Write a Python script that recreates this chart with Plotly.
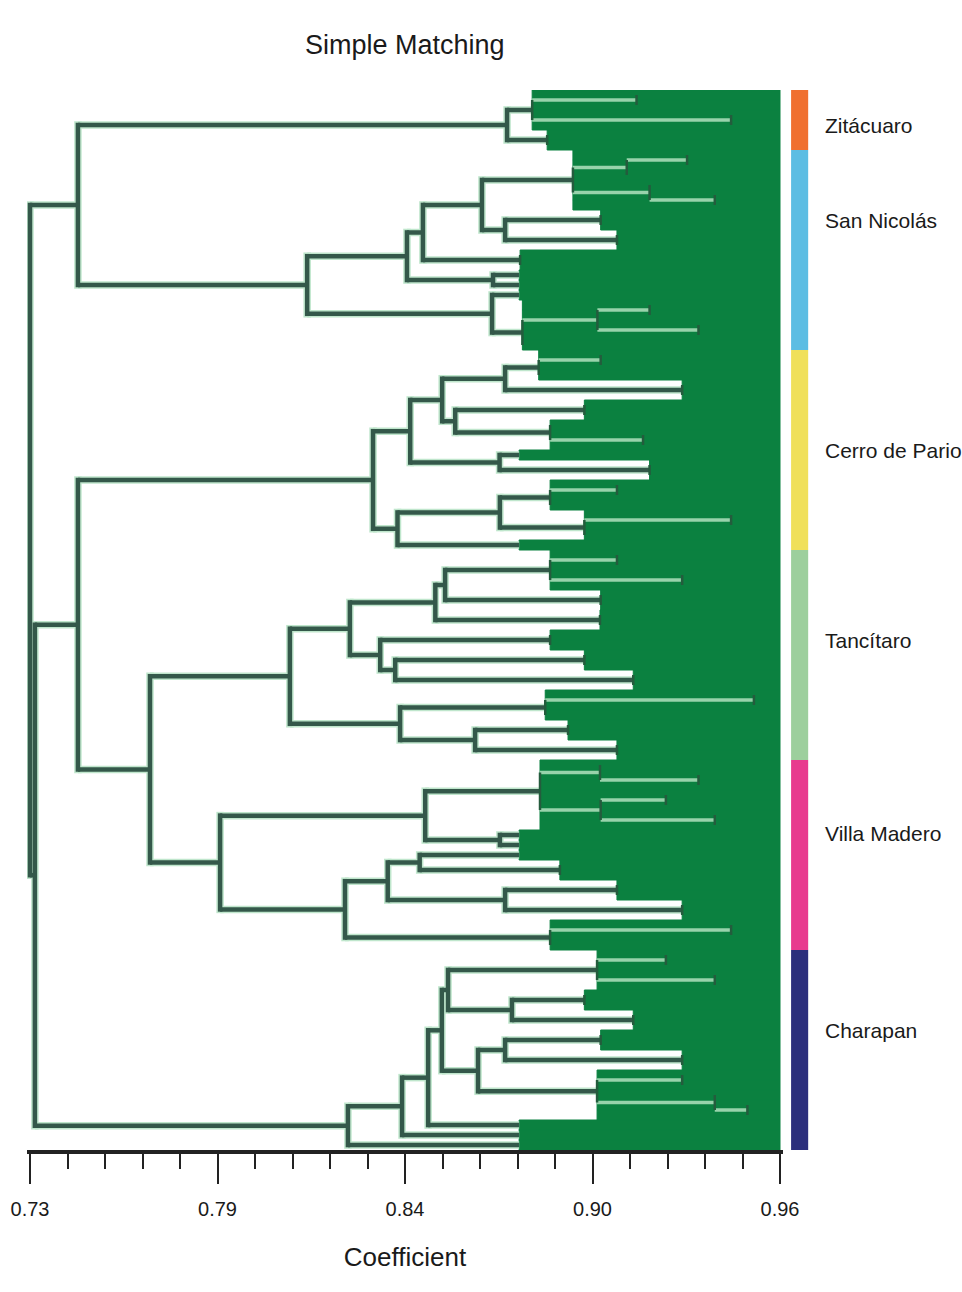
import plotly.graph_objects as go

L = "leaf"

# Population groups, top to bottom
populations = ["Zitácuaro", "San Nicolás", "Cerro de Pario", "Tancítaro", "Villa Madero", "Charapan"]

# Clusters within each population: [similarity coefficient, upper branch, lower branch]
zitacuaro = [0.8763,
             [0.8840, [0.9160, L, L], [0.9450, L, L]],
             [0.8886, L, L]]

san_nicolas = [0.8150,
               [0.8456,
                [0.8505,
                 [0.8686,
                  [0.8965, [0.9130, [0.9315, L, L], L], [0.9200, L, [0.9400, L, L]]],
                  [0.8757, [0.9050, L, L], [0.9100, L, L]]],
                 [0.8803, L, L]],
                [0.8720, L, L]],
               [0.8717,
                L,
                [0.8810, [0.9040, [0.9200, L, L], [0.9350, L, L]], L]]]

cerro_de_pario = [0.8352,
                  [0.8466,
                   [0.8564,
                    [0.8757, [0.8860, [0.9050, L, L], L], [0.9300, L, L]],
                    [0.8604, [0.9000, L, L], [0.8895, L, [0.9180, L, L]]]],
                   [0.8740, L, [0.9200, L, L]]],
                  [0.8427,
                   [0.8741, [0.8895, [0.9100, L, L], L], [0.9000, [0.9450, L, L], L]],
                   L]]

tancitaro = [0.8097,
             [0.8281,
              [0.8543,
               [0.8573, [0.8895, [0.9100, L, L], [0.9300, L, L]], [0.9050, L, L]],
               [0.9048, L, L]],
              [0.8374,
               [0.8895, L, L],
               [0.8420, [0.9000, L, L], [0.9150, L, L]]]],
             [0.8435,
              [0.8880, [0.9520, L, L], L],
              [0.8665, [0.8950, L, L], [0.9100, L, L]]]]

villa_madero = [0.7883,
                [0.8512,
                 [0.8864,
                  [0.9048, L, [0.9350, L, L]],
                  [0.9050, [0.9250, L, L], [0.9400, L, L]]],
                 [0.8741, L, L]],
                [0.8266,
                 [0.8397,
                  [0.8495, L, [0.8925, L, L]],
                  [0.8757, [0.9100, L, L], [0.9300, L, L]]],
                 [0.8895, [0.9450, L, L], L]]]

charapan = [0.8275,
            [0.8441,
             [0.8521,
              [0.8563,
               [0.8582,
                [0.9039, [0.9250, L, L], [0.9400, L, L]],
                [0.8778, [0.9000, L, L], [0.9150, L, L]]],
               [0.8674,
                [0.8757, [0.9050, L, L], [0.9300, L, L]],
                [0.9039, [0.9300, L, L], [0.9400, L, [0.9500, L, L]]]]],
              L],
             L],
            L]

population_trees = [zitacuaro, san_nicolas, cerro_de_pario, tancitaro, villa_madero, charapan]

# Joins between populations
join_zit_sn = 0.7447
join_tan_vm = 0.7668
join_cp_tv = 0.7447
join_lower = 0.7315
join_root = 0.7300

# Axis
tick_values = [0.73, 0.7875, 0.845, 0.9025, 0.96]
tick_labels = ["0.73", "0.79", "0.84", "0.90", "0.96"]
minor_step = 0.0115

# ---------------------------------------------------------------- styling
X_END = 0.96
DENSE_FROM = 0.88
BAND_GREEN = "#0b8140"
LINE_DARK = "#34584a"
LINE_HALO = "#bfe6cc"
STRIPE = "#98d3ab"
EDGE = "#245c3d"
pop_colors = ["#f07030", "#5cbde3", "#f0e05a", "#9dcf9d", "#e83a8e", "#2c2f7c"]
FONT = "Liberation Sans Narrow, Liberation Sans, Arial, sans-serif"
label_rows = [3.0, 12.5, 35.5, 54.5, 73.8, 93.5]

full_tree = [join_root,
             [join_zit_sn, zitacuaro, san_nicolas],
             [join_lower,
              [join_cp_tv, cerro_de_pario, [join_tan_vm, tancitaro, villa_madero]],
              charapan]]


def count_leaves(spec):
    return 1 if spec == L else count_leaves(spec[1]) + count_leaves(spec[2])


counter = [0]


def build(spec):
    if spec == L:
        r = counter[0]
        counter[0] += 1
        return {"h": X_END, "y": float(r), "kids": []}
    h, a, b = spec
    ka, kb = build(a), build(b)
    return {"h": h, "y": (ka["y"] + kb["y"]) / 2, "kids": [ka, kb]}


root = build(full_tree)
n_leaves = counter[0]

dark = ([], [])
dark_v = ([], [])
stripe = ([], [])
edge = ([], [])
band = ([], [])


def seg(store, x0, x1, y0, y1):
    store[0].extend([x0, x1, None])
    store[1].extend([y0, y1, None])


def walk(n, parent_h, band_start):
    if not n["kids"]:
        start = band_start if band_start is not None else DENSE_FROM
        y = n["y"]
        band[0].extend([start, X_END, X_END, start, start, None])
        band[1].extend([y - 0.5, y - 0.5, y + 0.5, y + 0.5, y - 0.5, None])
        if parent_h < DENSE_FROM:
            seg(dark, parent_h, DENSE_FROM, y, y)
        return
    h = n["h"]
    if parent_h is not None:
        if parent_h >= DENSE_FROM:
            seg(stripe, parent_h, h, n["y"], n["y"])
        else:
            seg(dark, parent_h, h, n["y"], n["y"])
    y_top, y_bot = n["kids"][0]["y"], n["kids"][1]["y"]
    if h >= DENSE_FROM:
        seg(edge, h, h, y_top, y_bot)
        bs = band_start if band_start is not None else h
    else:
        seg(dark_v, h, h, y_top, y_bot)
        bs = None
    for k in n["kids"]:
        walk(k, h, bs)


walk(root, None, None)


def extended(store, pad):
    xs, ys = [], []
    for i in range(0, len(store[0]), 3):
        y0, y1 = store[1][i], store[1][i + 1]
        xs += [store[0][i], store[0][i + 1], None]
        ys += [min(y0, y1) - pad, max(y0, y1) + pad, None]
    return xs, ys


fig = go.Figure()
fig.add_trace(go.Scatter(x=band[0], y=band[1], mode="lines", fill="toself",
                         fillcolor=BAND_GREEN, line=dict(color=BAND_GREEN, width=1),
                         hoverinfo="skip"))
hx, hy = extended(dark_v, 0.38)
fig.add_trace(go.Scatter(x=dark[0], y=dark[1], mode="lines",
                         line=dict(color=LINE_HALO, width=7.5), hoverinfo="skip"))
fig.add_trace(go.Scatter(x=hx, y=hy, mode="lines",
                         line=dict(color=LINE_HALO, width=7.5), hoverinfo="skip"))
fig.add_trace(go.Scatter(x=dark[0], y=dark[1], mode="lines",
                         line=dict(color=LINE_DARK, width=4.5), hoverinfo="skip"))
vx, vy = extended(dark_v, 0.23)
fig.add_trace(go.Scatter(x=vx, y=vy, mode="lines",
                         line=dict(color=LINE_DARK, width=4.5), hoverinfo="skip"))
fig.add_trace(go.Scatter(x=stripe[0], y=stripe[1], mode="lines",
                         line=dict(color=STRIPE, width=3.5), hoverinfo="skip"))
fig.add_trace(go.Scatter(x=edge[0], y=edge[1], mode="lines",
                         line=dict(color=EDGE, width=2.5), hoverinfo="skip"))

# Population colour strip and labels
plot_w = 750
x_pad = 3 * (X_END - 0.73) / plot_w
row = 0
for name, tree, col, ly in zip(populations, population_trees, pop_colors, label_rows):
    n = count_leaves(tree)
    fig.add_shape(type="rect", xref="paper", yref="y",
                  x0=1.0107, x1=1.0333, y0=row - 0.5, y1=row + n - 0.5,
                  fillcolor=col, line=dict(width=0))
    fig.add_annotation(text=name, xref="paper", yref="y", x=1.0533, y=ly,
                       xanchor="left", yanchor="middle", showarrow=False,
                       font=dict(family=FONT, size=21, color="#1a1a1a"))
    row += n

fig.add_annotation(text="Simple Matching", xref="x", yref="paper", x=0.845, y=1.042,
                   xanchor="center", yanchor="middle", showarrow=False,
                   font=dict(family=FONT, size=27, color="#1a1a1a"))

fig.update_layout(
    width=962, height=1292,
    margin=dict(l=27, r=179, t=90, b=142),
    plot_bgcolor="white", paper_bgcolor="white",
    showlegend=False,
    xaxis=dict(range=[0.73 - x_pad, X_END + x_pad],
               tickvals=tick_values, ticktext=tick_labels,
               ticks="outside", ticklen=30, tickwidth=2, tickcolor="#222",
               ticklabelstandoff=8,
               showline=True, linecolor="#222", linewidth=4,
               showgrid=False, zeroline=False,
               minor=dict(tickmode="linear", tick0=0.73, dtick=minor_step,
                          ticks="outside", ticklen=15, tickwidth=2,
                          tickcolor="#222", showgrid=False),
               tickfont=dict(family=FONT, size=20, color="#1a1a1a"),
               title=dict(text="Coefficient", standoff=30,
                          font=dict(family=FONT, size=26, color="#1a1a1a"))),
    yaxis=dict(range=[n_leaves - 0.5, -0.5], visible=False),
)

fig.write_html("out.html")
